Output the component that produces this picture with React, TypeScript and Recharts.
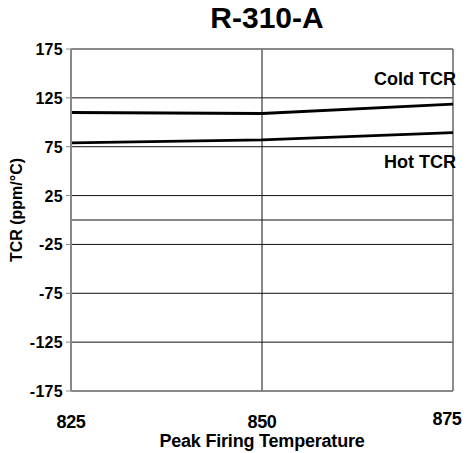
import React from 'react';
import { LineChart, Line, XAxis, YAxis, CartesianGrid, ReferenceLine, ReferenceDot, Label } from 'recharts';

const temperatures = [825, 850, 875];
const coldTCR = [110, 109, 118.5];
const hotTCR = [79, 82, 89.5];
const yTicks = [-175, -125, -75, -25, 25, 75, 125, 175];
const xTicks = [825, 850, 875];

const data = temperatures.map((t, i) => ({ t, cold: coldTCR[i], hot: hotTCR[i] }));

const FONT = '"Liberation Sans", Arial, sans-serif';

const XTick = (props: any) => {
  const { x, y, payload, index } = props;
  const last = index === xTicks.length - 1;
  return (
    <text x={last ? x - 6 : x} y={last ? y + 26 : y + 29} textAnchor="middle" fontFamily={FONT} fontWeight="bold" fontSize={18} fill="#000" letterSpacing={-0.3}>
      {payload.value}
    </text>
  );
};

const YTick = (props: any) => {
  const { x, y, payload } = props;
  return (
    <text x={x - 1} y={y + 6} textAnchor="end" fontFamily={FONT} fontWeight="bold" fontSize={16} fill="#000" letterSpacing={0.3}>
      {payload.value}
    </text>
  );
};

const SeriesLabel = (text: string) => (props: any) => {
  const { viewBox } = props;
  return (
    <text x={viewBox.x + 3} y={viewBox.y} textAnchor="end" fontFamily={FONT} fontWeight="bold" fontSize={18} fill="#000">
      {text}
    </text>
  );
};

const YAxisTitle = (props: any) => {
  const { viewBox } = props;
  const cx = 16;
  const cy = viewBox.y + viewBox.height / 2 - 10;
  return (
    <text x={cx} y={cy} transform={`rotate(-90, ${cx}, ${cy})`} textAnchor="middle" dominantBaseline="central" fontFamily={FONT} fontWeight="bold" fontSize={16} fill="#000">
      TCR (ppm/°C)
    </text>
  );
};

const XAxisTitle = (props: any) => {
  const { viewBox } = props;
  return (
    <text x={viewBox.x + viewBox.width / 2} y={447} textAnchor="middle" fontFamily={FONT} fontWeight="bold" fontSize={18} letterSpacing={-0.2} fill="#000">
      Peak Firing Temperature
    </text>
  );
};

export default function App() {
  return (
    <div style={{ position: 'absolute', left: 0, top: 0, width: 466, height: 453, background: '#fff' }}>
      <svg width={466} height={40} style={{ position: 'absolute', left: 0, top: 0 }}>
        <text x={267} y={28} textAnchor="middle" fontFamily={FONT} fontWeight="bold" fontSize={30} fill="#000">
          R-310-A
        </text>
      </svg>
      <LineChart width={466} height={453} data={data} margin={{ top: 49, right: 13, bottom: 0, left: 0 }} style={{ position: 'absolute', left: 0, top: 0 }}>
        <CartesianGrid stroke="#111" strokeWidth={1} horizontalValues={yTicks} verticalValues={[850]} />
        <ReferenceLine y={0} stroke="#111" strokeWidth={1} />
        <ReferenceLine y={175} stroke="#888" strokeWidth={1.5} />
        <ReferenceLine x={875} stroke="#666" strokeWidth={1.5} />
        <XAxis
          dataKey="t"
          type="number"
          domain={[825, 875]}
          ticks={xTicks}
          height={62}
          axisLine={{ stroke: '#888', strokeWidth: 1.5 }}
          tickLine={false}
          tick={<XTick />}
        >
          <Label content={XAxisTitle} />
        </XAxis>
        <YAxis
          type="number"
          domain={[-175, 175]}
          ticks={yTicks}
          width={71}
          axisLine={{ stroke: '#888', strokeWidth: 2 }}
          tickLine={{ stroke: '#888' }}
          tickSize={5}
          tick={<YTick />}
          interval={0}
        >
          <Label content={YAxisTitle} />
        </YAxis>
        <Line type="linear" dataKey="cold" stroke="#000" strokeWidth={2.8} dot={false} isAnimationActive={false} />
        <Line type="linear" dataKey="hot" stroke="#000" strokeWidth={2.8} dot={false} isAnimationActive={false} />
        <ReferenceDot x={875} y={138} r={0} stroke="none" fill="none" label={SeriesLabel('Cold TCR')} />
        <ReferenceDot x={875} y={53} r={0} stroke="none" fill="none" label={SeriesLabel('Hot TCR')} />
      </LineChart>
    </div>
  );
}
